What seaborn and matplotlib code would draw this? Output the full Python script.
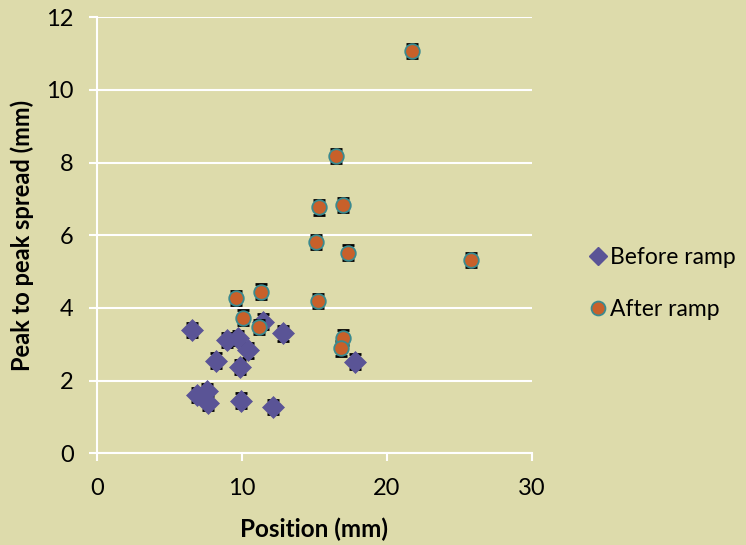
import matplotlib
matplotlib.use("Agg")
import matplotlib.pyplot as plt
import seaborn as sns
import pandas as pd
from matplotlib.lines import Line2D

# Before ramp measurements
before_pos = [6.52, 8.98, 9.74, 10.39, 8.20, 9.86, 11.42, 12.85, 6.86, 7.55, 7.67, 9.90, 12.16, 17.79]
before_spread = [3.39, 3.12, 3.17, 2.83, 2.55, 2.38, 3.62, 3.30, 1.60, 1.72, 1.38, 1.45, 1.27, 2.52]

# After ramp measurements
after_pos = [9.56, 11.28, 10.08, 11.19, 16.48, 15.31, 17.00, 15.10, 17.31, 15.22, 16.99, 16.81, 21.75, 25.79]
after_spread = [4.27, 4.45, 3.73, 3.48, 8.18, 6.77, 6.83, 5.81, 5.52, 4.19, 3.18, 2.89, 11.07, 5.32]

spread_err = 0.2

bg = "#DDDBAB"
purple = "#5A5496"
orange = "#C8602A"
teal = "#3B8A8F"

sns.set_theme(style="white")
plt.rcParams["font.family"] = ["Lato", "DejaVu Sans"]
plt.rcParams["text.color"] = "black"
plt.rcParams["axes.labelcolor"] = "black"

fig = plt.figure(figsize=(7.46, 5.45), dpi=100, facecolor=bg)
ax = fig.add_axes([0.1304, 0.1683, 0.5823, 0.8000])
ax.set_facecolor(bg)

df_b = pd.DataFrame({"pos": before_pos, "spread": before_spread})
df_a = pd.DataFrame({"pos": after_pos, "spread": after_spread})

ax.errorbar(df_b["pos"], df_b["spread"], yerr=spread_err, fmt="none",
            ecolor="black", elinewidth=1.2, capsize=4.5, capthick=2, zorder=3)
sns.scatterplot(data=df_b, x="pos", y="spread", marker="D", s=125,
                color=purple, edgecolor=purple, linewidth=0.5, ax=ax, zorder=4)

ax.errorbar(df_a["pos"], df_a["spread"], yerr=spread_err, fmt="none",
            ecolor="black", elinewidth=1.2, capsize=4.5, capthick=2, zorder=5)
sns.scatterplot(data=df_a, x="pos", y="spread", marker="o", s=110,
                color=orange, edgecolor=teal, linewidth=1.3, ax=ax, zorder=6)

ax.set_xlim(0, 30)
ax.set_ylim(0, 12)
ax.set_xticks([0, 10, 20, 30])
ax.set_yticks(range(0, 13, 2))
ax.yaxis.grid(True, color="white", linewidth=1.5)
ax.xaxis.grid(False)
ax.set_axisbelow(True)

for side in ["top", "right"]:
    ax.spines[side].set_visible(False)
for side in ["left", "bottom"]:
    ax.spines[side].set_color("white")
    ax.spines[side].set_linewidth(1.5)

ax.tick_params(axis="both", direction="out", length=6, width=1.5, color="white",
               labelsize=17, labelcolor="black", left=True, bottom=True)
ax.tick_params(axis="y", pad=11)
ax.tick_params(axis="x", pad=12)

ax.set_xlabel("Position (mm)", fontsize=17.5, fontweight="bold", labelpad=13, color="black")
ax.set_ylabel("Peak to peak spread (mm)", fontsize=17, fontweight="bold", labelpad=9, color="black")

handles = [
    Line2D([], [], marker="D", linestyle="none", markersize=9.5,
           markerfacecolor=purple, markeredgecolor=purple),
    Line2D([], [], marker="o", linestyle="none", markersize=10,
           markerfacecolor=orange, markeredgecolor=teal, markeredgewidth=1.3),
]
leg = fig.legend(handles, ["Before ramp", "After ramp"], loc="center left",
                 bbox_to_anchor=(0.758, 0.479), frameon=False, fontsize=16.5,
                 handletextpad=0.05, labelspacing=1.35, handlelength=1.0)
for t in leg.get_texts():
    t.set_color("black")

fig.savefig("out.png", dpi=100, facecolor=bg)
